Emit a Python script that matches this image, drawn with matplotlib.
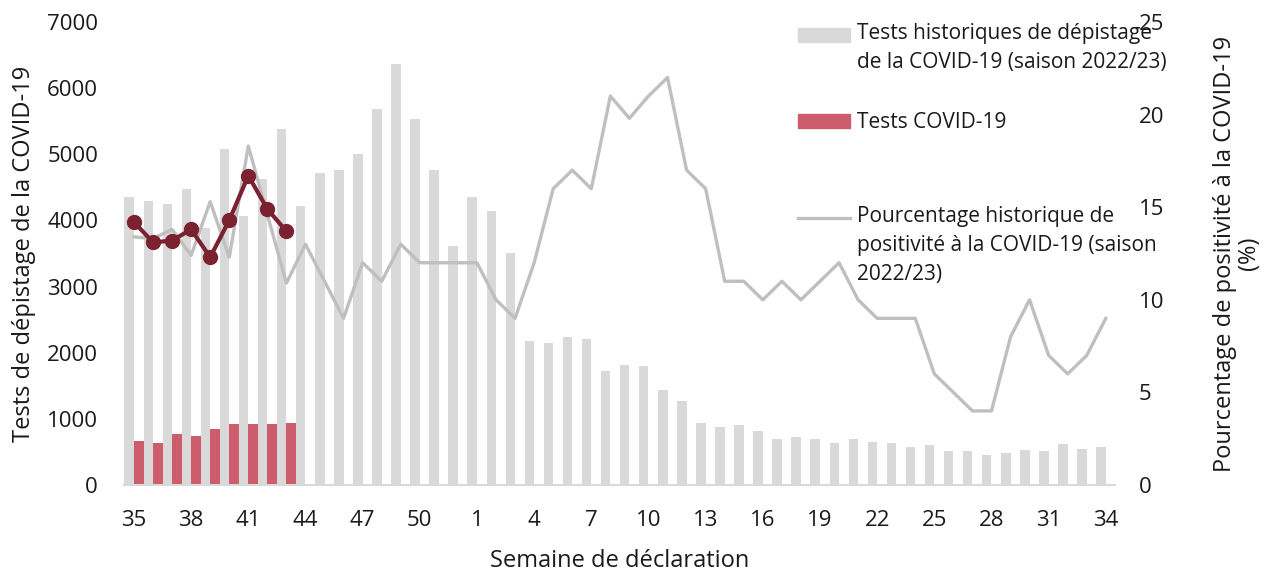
import numpy as np
import matplotlib
matplotlib.use("Agg")
import matplotlib.pyplot as plt
from matplotlib.patches import Patch, Rectangle
from matplotlib.lines import Line2D

plt.rcParams['font.family'] = ['Open Sans', 'DejaVu Sans']
plt.rcParams['font.size'] = 16

# semaines de déclaration (35 -> 52, puis 1 -> 34)
weeks = list(range(35, 53)) + list(range(1, 35))

# tests historiques (saison 2022/23)
hist_tests = [4350, 4300, 4250, 4470, 3880, 5080, 4070, 4630, 5380, 4220,
              4710, 4760, 5010, 5680, 6370, 5540, 4760, 3620, 4350, 4150,
              3510, 2180, 2150, 2240, 2200, 1720, 1810, 1800, 1440, 1270,
              940, 880, 900, 810, 700, 720, 690, 630, 690, 650,
              630, 580, 610, 510, 520, 460, 490, 530, 510, 620,
              540, 580]

# tests COVID-19 saison actuelle
cur_tests = [660, 640, 770, 740, 840, 920, 920, 920, 930]

# pourcentage historique de positivité (saison 2022/23)
hist_pos = [13.4, 13.3, 13.8, 12.4, 15.3, 12.3, 18.3, 14.6, 10.9, 13,
            11, 9, 12, 11, 13, 12, 12, 12, 12, 10,
            9, 12, 16, 17, 16, 21, 19.8, 21, 22, 17,
            16, 11, 11, 10, 11, 10, 11, 12, 10, 9,
            9, 9, 6, 5, 4, 4, 8, 10, 7, 6,
            7, 9]

# pourcentage de positivité saison actuelle
cur_pos = [14.2, 13.1, 13.2, 13.8, 12.3, 14.3, 16.7, 14.9, 13.7]

GREY_BAR = '#d9d9d9'
RED_BAR = '#cd5c6c'
GREY_LINE = '#bfbfbf'
DARK_RED = '#7b2130'
TXT = '#1a1a1a'


class TopHandler:
    # handle aligned with the first line of a multi-line label (Excel style)
    def __init__(self, kind, color, nlines, line_h):
        self.kind, self.color = kind, color
        self.shift = (nlines - 1) / 2 * line_h

    def legend_artist(self, legend, orig_handle, fontsize, handlebox):
        x0, y0 = handlebox.xdescent, handlebox.ydescent
        w, h = handlebox.width, handlebox.height
        if self.kind == 'patch':
            a = Rectangle((-x0, -y0 + self.shift), w, h, color=self.color)
        else:
            yy = -y0 + h / 2 + self.shift
            a = Line2D([-x0, -x0 + w], [yy, yy], color=self.color, lw=2.4)
        handlebox.add_artist(a)
        return a


x = np.arange(len(weeks))
xc = x[:len(cur_tests)]

fig = plt.figure(figsize=(12.66, 5.71), dpi=100)
ax = fig.add_axes([0.0983, 0.1506, 0.7827, 0.8109])
ax2 = ax.twinx()

ax.bar(x - 0.25, hist_tests, width=0.5, color=GREY_BAR, zorder=2)
ax.bar(xc + 0.25, cur_tests, width=0.5, color=RED_BAR, zorder=2)

ax2.plot(x, hist_pos, color=GREY_LINE, lw=2.4, zorder=3)
ax2.plot(xc, cur_pos, color=DARK_RED, lw=3, marker='o', ms=10, zorder=4)

ax.set_xlim(-0.5, len(weeks) - 0.5)
ax.set_ylim(0, 7000)
ax2.set_ylim(0, 25)
ax.set_yticks(range(0, 7001, 1000))
ax2.set_yticks(range(0, 26, 5))
ax.set_xticks(x[::3])
ax.set_xticklabels([str(w) for w in weeks[::3]])

for a in (ax, ax2):
    for s in a.spines.values():
        s.set_visible(False)
ax.spines['bottom'].set_visible(True)
ax.spines['bottom'].set_color(GREY_BAR)
ax.spines['bottom'].set_linewidth(1.5)

ax.tick_params(axis='x', length=0, pad=18, colors=TXT)
ax.tick_params(axis='y', length=0, pad=19, colors=TXT)
ax2.tick_params(axis='y', length=0, pad=17, colors=TXT)

ax.set_xlabel('Semaine de déclaration', fontsize=17, labelpad=13, color=TXT)
ax.set_ylabel('Tests de dépistage de la COVID-19', fontsize=17, labelpad=8,
              color=TXT)
ax2.set_ylabel('Pourcentage de positivité à la COVID-19\n(%)', fontsize=17,
               labelpad=35, color=TXT, linespacing=1.0)

LFS = 15
LSP = 1.5
line_h = 20.2

lab1 = 'Tests historiques de dépistage\nde la COVID-19 (saison 2022/23)'
lab2 = 'Tests COVID-19'
lab3 = 'Pourcentage historique de\npositivité à la COVID-19 (saison\n2022/23)'
h1, h2, h3 = Patch(color=GREY_BAR), Patch(color=RED_BAR), Line2D([], [], color=GREY_LINE)

common = dict(loc='upper left', frameon=False, borderpad=0, handlelength=2.5,
              handleheight=0.65, handletextpad=0.3, borderaxespad=0,
              fontsize=LFS)
leg1 = ax2.legend([h1, h2], [lab1, lab2], bbox_to_anchor=(0.68, 0.998),
                  labelspacing=1.9,
                  handler_map={h1: TopHandler('patch', GREY_BAR, 2, line_h),
                               h2: TopHandler('patch', RED_BAR, 1, line_h)},
                  **common)
for t in leg1.get_texts():
    t.set_linespacing(LSP)
    t.set_color(TXT)
ax2.add_artist(leg1)

leg2 = ax2.legend([h3], [lab3], bbox_to_anchor=(0.68, 0.603),
                  handler_map={h3: TopHandler('line', GREY_LINE, 3, line_h)},
                  **common)
for t in leg2.get_texts():
    t.set_linespacing(LSP)
    t.set_color(TXT)

fig.savefig('out.png', dpi=100)
